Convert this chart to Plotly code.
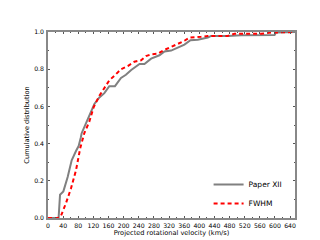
import plotly.graph_objects as go

paper_v = [0, 28, 31.8, 40.6, 52, 62.6, 74, 81, 86.4, 89, 100.6, 113.8, 122.6, 135.8, 149, 162, 177, 193, 206, 220, 242, 255, 272.6, 294.6, 308, 325.5, 343, 360.7, 376.6, 396, 422.5, 431, 475, 510.7, 599, 603, 653]
paper_c = [0, 0, 0.125, 0.143, 0.22, 0.31, 0.36, 0.387, 0.43, 0.456, 0.51, 0.57, 0.613, 0.648, 0.671, 0.709, 0.709, 0.753, 0.77, 0.796, 0.828, 0.828, 0.857, 0.875, 0.895, 0.9, 0.918, 0.932, 0.956, 0.958, 0.97, 0.979, 0.979, 0.983, 0.984, 0.997, 1.0]

fwhm_v = [0, 25.6, 34.4, 47.6, 60.9, 74, 85.5, 96, 109, 120.8, 135.8, 149, 162, 175.5, 193, 210.8, 228.4, 246, 259, 272.6, 290, 308, 325.5, 343, 360.7, 374, 405, 422.5, 475, 493, 564, 590.5, 653]
fwhm_c = [0, 0, 0.012, 0.08, 0.16, 0.256, 0.378, 0.456, 0.517, 0.596, 0.657, 0.7, 0.74, 0.765, 0.8, 0.817, 0.84, 0.848, 0.87, 0.88, 0.883, 0.904, 0.918, 0.936, 0.953, 0.97, 0.974, 0.979, 0.979, 0.99, 0.99, 0.997, 1.0]

x_ticks = list(range(0, 641, 40))
y_ticks = [0.0, 0.2, 0.4, 0.6, 0.8, 1.0]

fig = go.Figure()
fig.add_trace(go.Scatter(x=paper_v, y=paper_c, mode="lines", name="Paper XII",
                         line=dict(color="#808080", width=2)))
fig.add_trace(go.Scatter(x=fwhm_v, y=fwhm_c, mode="lines", name="FWHM",
                         line=dict(color="#ff0000", width=2, dash="4px,3px")))

tick_font = dict(family="DejaVu Sans", size=6.2, color="black")
title_font = dict(family="DejaVu Sans", size=6.6, color="black")
axis_common = dict(showline=True, linecolor="#888888", linewidth=1.5, mirror="allticks",
                   ticks="inside", ticklen=2, tickcolor="#555555", tickwidth=0.8,
                   showgrid=False, zeroline=False, tickfont=tick_font)
fig.update_xaxes(range=[0, 653], tickvals=x_ticks, ticktext=[str(v) for v in x_ticks],
                 tickangle=0, ticklabelstandoff=1,
                 minor=dict(dtick=20, tick0=0, ticks="inside", ticklen=1.5, tickcolor="#555555"),
                 title=dict(text="Projected rotational velocity (km/s)", font=title_font, standoff=2),
                 **axis_common)
fig.update_yaxes(range=[0, 1.0], tickvals=y_ticks, ticktext=["%.1f" % v for v in y_ticks],
                 ticklabelstandoff=1,
                 minor=dict(dtick=0.1, tick0=0, ticks="inside", ticklen=1.5, tickcolor="#555555"),
                 title=dict(text="Cumulative distribution", font=title_font, standoff=4),
                 **axis_common)
fig.update_layout(width=320, height=240, margin=dict(l=40, r=33, t=24, b=24),
                  plot_bgcolor="white", paper_bgcolor="white",
                  legend=dict(x=0.97, y=0.0, xanchor="right", yanchor="bottom",
                              bgcolor="rgba(0,0,0,0)", font=dict(family="DejaVu Sans", size=7.5, color="black"),
                              tracegroupgap=0, itemwidth=30))
fig.write_html("out.html")
